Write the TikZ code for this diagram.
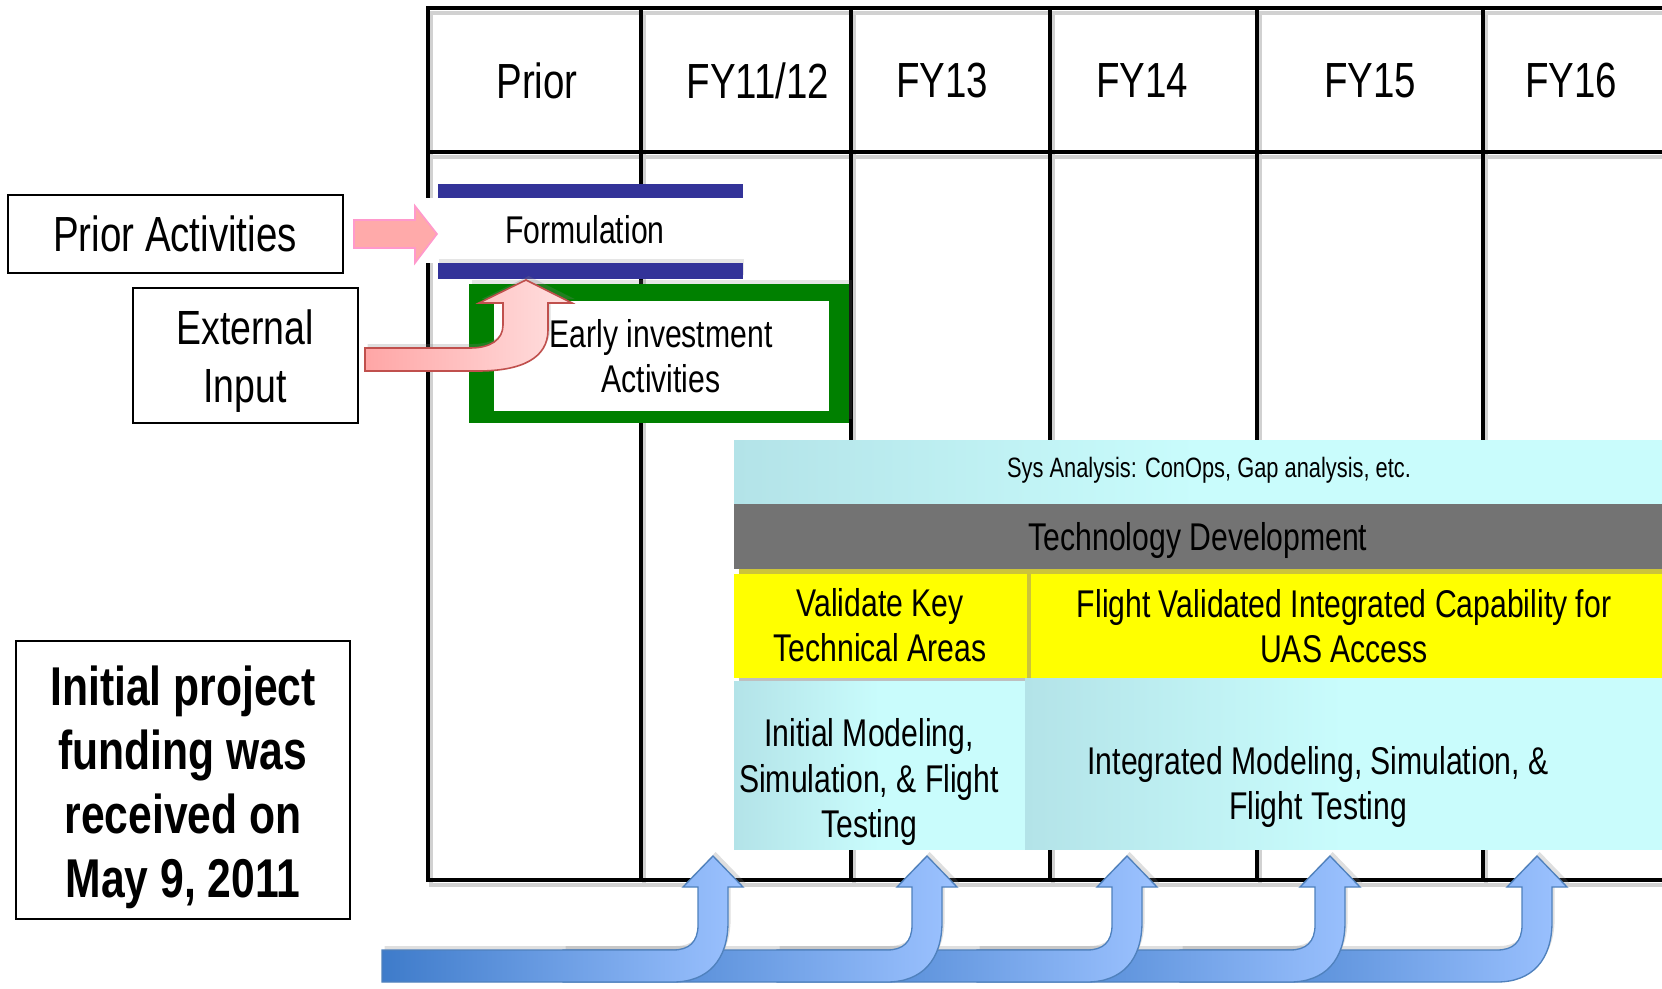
\documentclass[tikz,border=0pt]{standalone}
\usepackage{fontspec}
\setmainfont[FakeStretch=0.78]{Liberation Sans}
\usetikzlibrary{shadows}

\definecolor{formblue}{RGB}{51,51,153}
\definecolor{earlygreen}{RGB}{0,128,0}
\definecolor{pinkfill}{RGB}{255,170,170}
\definecolor{pinkline}{RGB}{255,153,204}
\definecolor{curvedark}{RGB}{255,166,166}
\definecolor{curvelight}{RGB}{255,224,224}
\definecolor{curveline}{RGB}{192,80,77}
\definecolor{cyandark}{RGB}{179,227,232}
\definecolor{cyanlight}{RGB}{201,252,252}
\definecolor{techgray}{RGB}{115,115,115}
\definecolor{validolive}{RGB}{204,196,58}
\definecolor{validyellow}{RGB}{255,255,0}
\definecolor{bluedark}{RGB}{62,123,202}
\definecolor{bluelight}{RGB}{156,194,255}
\definecolor{blueline}{RGB}{79,129,189}

\tikzset{every picture/.style={line width=0.75pt}}
\tikzset{
  gridline/.style={line width=3.5pt},
  boxline/.style={line width=1.5pt},
  hdr/.style={font=\fontsize{37}{44}\selectfont},
  bigl/.style={align=center, font=\fontsize{37}{44}\selectfont},
  extl/.style={align=center, font=\fontsize{36}{43}\selectfont},
  lbl/.style={align=center, font=\fontsize{29}{34}\selectfont},
  smalll/.style={font=\fontsize{21}{25}\selectfont},
  fundl/.style={align=center, font=\fontsize{41}{48}\selectfont\bfseries},
  cyanband/.style={left color=cyandark, right color=cyanlight, middle color=cyanlight},
  curvearrow/.style={draw=curveline, line width=1.2pt, left color=curvedark, right color=curvelight,
    drop shadow={shadow xshift=2pt, shadow yshift=3pt, opacity=0.25}},
  bluearrow/.style={draw=blueline, line width=1pt, left color=bluedark, right color=bluelight,
    drop shadow={shadow xshift=2pt, shadow yshift=3pt, opacity=0.25}}
}

\begin{document}
\begin{tikzpicture}[x=0.75pt,y=0.75pt,yscale=-1,xscale=1]
\useasboundingbox (0,0) rectangle (1662,988);

%Grid shadow
\begin{scope}[shift={(3,5)}]
\draw [gridline, black!18] (1662,8) -- (428,8) -- (428,880) -- (1662,880) (428,152) -- (1662,152) (641,8) -- (641,880) (851,8) -- (851,880) (1050,8) -- (1050,880) (1257,8) -- (1257,880) (1483,8) -- (1483,880) ;
\end{scope}
%Grid
\draw [gridline] (1662,8) -- (428,8) -- (428,880) -- (1662,880) (428,152) -- (1662,152) (641,8) -- (641,880) (851,8) -- (851,880) (1050,8) -- (1050,880) (1257,8) -- (1257,880) (1483,8) -- (1483,880) ;

%Shape: Rectangle
\draw [boxline] (8,195) rectangle (343,273) ;
%Shape: Rectangle
\draw [boxline] (133,288) rectangle (358,423) ;
%Shape: Rectangle
\draw [boxline] (16,641) rectangle (350,919) ;

%Formulation bars
\fill [white] (425,198) rectangle (743,263) ;
\fill [formblue] (438,184) rectangle (743,198) ;
\fill [formblue, drop shadow={shadow xshift=1pt, shadow yshift=3pt, opacity=0.2}] (438,263) rectangle (743,279) ;

%Early investment frame
\fill [earlygreen, drop shadow={shadow xshift=2pt, shadow yshift=3pt, opacity=0.2}] (469,284) rectangle (849,423) ;
\fill [white] (494,301) rectangle (829,411) ;

%Straight block arrow
\draw [draw=pinkline, fill=pinkfill, line width=1.2pt] (354,220) -- (415,220) -- (415,206) -- (437,234) -- (415,263) -- (415,248) -- (354,248) -- cycle ;

%Bent up arrow
\draw [curvearrow] (365,348) -- (470,348) .. controls (490,348) and (503,340) .. (503,325) -- (503,303) -- (479,303) -- (526,280) -- (572,303) -- (548,303) -- (548,330) .. controls (548,358) and (522,371) .. (478,371) -- (365,371) -- cycle ;

%Bands
\fill [cyanband] (734,440) rectangle (1662,504) ;
\fill [techgray] (734,504) rectangle (1662,569) ;
\fill [validolive] (739,569) rectangle (1662,678) ;
\fill [validyellow] (734,574) rectangle (1027,678) ;
\fill [validyellow] (1031,574) rectangle (1662,678) ;
\fill [black!25] (739,678) rectangle (1025,683) ;
\fill [cyanband] (734,681) rectangle (1025,849) ;
\fill [cyanband] (1025,678) rectangle (1662,849) ;

%Funding arrows
\draw [bluearrow] (1180,950) -- (1497,950) .. controls (1513,950) and (1522,942) .. (1522,925) -- (1522,887) -- (1507,887) -- (1537,856) -- (1567,887) -- (1552,887) -- (1552,922) .. controls (1552,960) and (1532,982) .. (1497,982) -- (1180,982) -- cycle ;
\draw [bluearrow] (977,950) -- (1290,950) .. controls (1306,950) and (1315,942) .. (1315,925) -- (1315,887) -- (1300,887) -- (1330,856) -- (1360,887) -- (1345,887) -- (1345,922) .. controls (1345,960) and (1325,982) .. (1290,982) -- (977,982) -- cycle ;
\draw [bluearrow] (777,950) -- (1087,950) .. controls (1103,950) and (1112,942) .. (1112,925) -- (1112,887) -- (1097,887) -- (1127,856) -- (1157,887) -- (1142,887) -- (1142,922) .. controls (1142,960) and (1122,982) .. (1087,982) -- (777,982) -- cycle ;
\draw [bluearrow] (563,950) -- (887,950) .. controls (903,950) and (912,942) .. (912,925) -- (912,887) -- (897,887) -- (927,856) -- (957,887) -- (942,887) -- (942,922) .. controls (942,960) and (922,982) .. (887,982) -- (563,982) -- cycle ;
\draw [bluearrow] (382,950) -- (673,950) .. controls (689,950) and (698,942) .. (698,925) -- (698,887) -- (683,887) -- (713,856) -- (743,887) -- (728,887) -- (728,922) .. controls (728,960) and (708,982) .. (673,982) -- (382,982) -- cycle ;

% Text Node
\draw (537,81) node (hdrprior) [hdr] {Prior};
\draw (758,81) node (hdrfy1112) [hdr] {FY11/12};
\draw (942,81) node (hdrfy13) [hdr] {FY13};
\draw (1142,81) node (hdrfy14) [hdr] {FY14};
\draw (1370,81) node (hdrfy15) [hdr] {FY15};
\draw (1571,81) node (hdrfy16) [hdr] {FY16};

% Text Node
\draw (175,234) node (prioract) [bigl] {Prior Activities};
\draw (245,361) node (extinput) [extl] {External\\Input};
\draw (183,787) node (funding) [fundl] {Initial project\\funding was\\received on\\May 9, 2011};

% Text Node
\draw (585,230) node (formulation) [lbl] {Formulation};
\draw (661,356) node (earlyinv) [lbl] {Early investment\\Activities};

% Text Node
\draw (1209,470) node (sysanalysis) [smalll] {Sys Analysis: ConOps, Gap analysis, etc.};
\draw (1198,540) node (techdev) [lbl] {Technology Development};
\draw (880,625) node (validkey) [lbl] {Validate Key\\Technical Areas};
\draw (1344,626) node (flightvalid) [lbl] {Flight Validated Integrated Capability for\\UAS Access};
\draw (869,782) node (initmodel) [lbl] {Initial Modeling,\\Simulation, \& Flight\\Testing};
\draw (1318,787) node (intmodel) [lbl] {Integrated Modeling, Simulation, \&\\Flight Testing};

\end{tikzpicture}
\end{document}
